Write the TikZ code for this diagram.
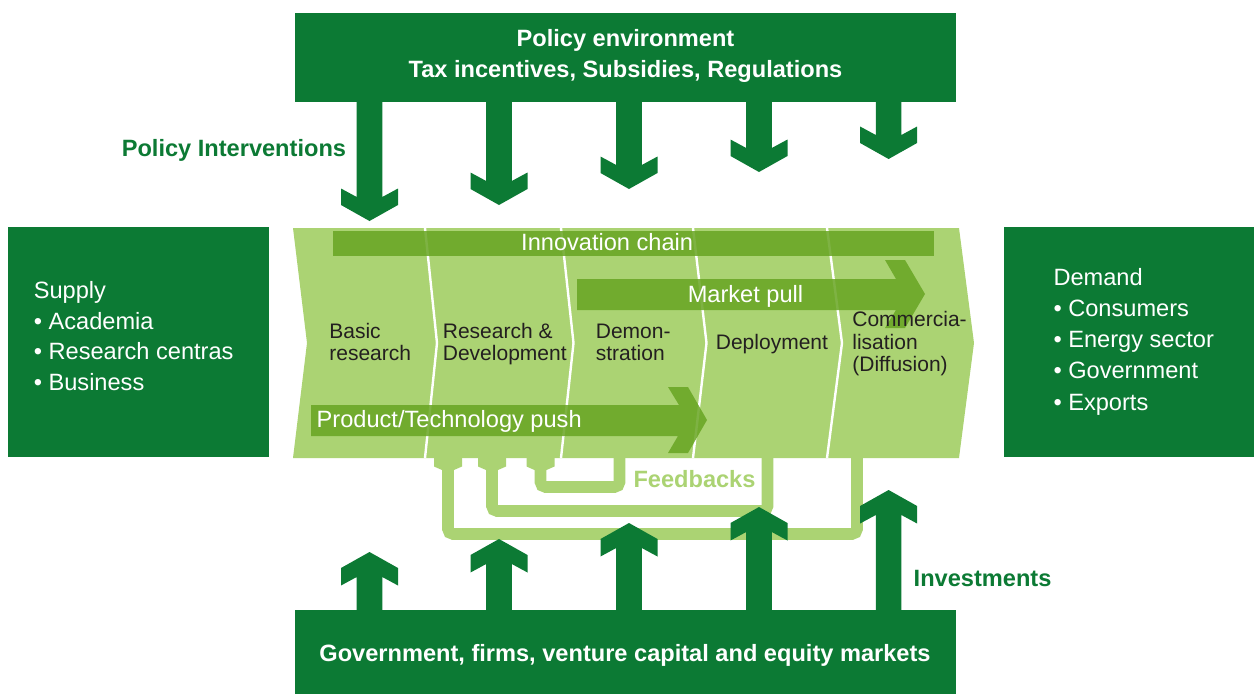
\documentclass[tikz,border=0pt]{standalone}
\usepackage{fontspec}
\setmainfont{Liberation Sans}

\begin{document}
\begin{tikzpicture}[x=1pt, y=-1pt,
	box/.style={fill=dgreen, inner sep=0pt},
	btext/.style={inner sep=0pt, font=\bfseries\fontsize{23.6}{30.6}\selectfont},
	rtext/.style={inner sep=0pt, text=white, align=left, font=\fontsize{23.6}{31}\selectfont},
	stage/.style={inner sep=0pt, text=stagegray, align=left, anchor=base west, font=\fontsize{21}{22.4}\selectfont},
	barfill/.style={fill=mgreen, fill opacity=.85},
	fbline/.style={draw=lgreen, line width=11.6pt, rounded corners=5pt}]
\definecolor{dgreen}{HTML}{0C7A34}
\definecolor{lgreen}{HTML}{ABD373}
\definecolor{mgreen}{RGB}{104,165,35}
\definecolor{stagegray}{HTML}{231F20}
	\useasboundingbox (0,0) rectangle (1254,694);

	% innovation chain band
	\fill[lgreen] (293,228) -- (959,228) -- (974,343) -- (959,458) -- (293,458) -- (307,343) -- cycle;
	\foreach \dx/\dd in {425/12, 561/12.5, 693/13.5, 827/15}
		\draw[white, line width=2.4pt] (\dx,228) -- ({\dx+\dd},343) -- (\dx,458);

	\fill[barfill] (333,231) rectangle (934,256);
	\fill[barfill] (577,279) -- (896,279) -- (885,260) -- (905,260) -- (925,294) -- (905,328) -- (885,328) -- (896,310) -- (577,310) -- cycle;
	\fill[barfill] (311,405) -- (679,405) -- (668,387) -- (688,387) -- (707,420) -- (688,453) -- (668,453) -- (678,436) -- (311,436) -- cycle;

	\node[rtext, anchor=base west] (chain) at (521,250.7) {Innovation chain};
	\node[rtext, anchor=base west] (pull) at (687.6,302.7) {Market pull};
	\node[rtext, anchor=base west] (push) at (316.5,427.3) {Product/Technology push};

	% base = last line
	\node[stage] (basic) at (329.2,360.7) {Basic\\research};
	\node[stage] (rnd) at (442.7,360.7) {Research \&\\Development};
	\node[stage] (demo) at (595.7,360.7) {Demon-\\stration};
	\node[stage] (deploy) at (715.7,349.3) {Deployment};
	\node[stage] (comm) at (852.2,371.5) {Commercia-\\lisation\\(Diffusion)};

	% feedbacks
	\draw[fbline] (448,460) -- (448,534) -- (857,534) -- (857,456);
	\draw[fbline] (492,460) -- (492,511) -- (767.5,511) -- (767.5,456);
	\draw[fbline] (540.5,460) -- (540.5,487) -- (619.5,487) -- (619.5,456);
	\foreach \cx in {448,492,540.5}
		\fill[lgreen] ({\cx-6},470) -- ({\cx-14},466.5) -- ({\cx-14},456) -- ({\cx+14},456) -- ({\cx+14},466.5) -- ({\cx+6},470) -- cycle;
	\node[btext, text=lgreen, anchor=base west] (feedb) at (633.3,487.3) {Feedbacks};

	% boxes
	\node[box, minimum width=661pt, minimum height=89pt] (policy) at (625.5,57.5) {};
	\node[box, minimum width=661pt, minimum height=84pt] (capital) at (625.5,652) {};
	\node[box, minimum width=261pt, minimum height=230pt] (supply) at (138.5,342) {};
	\node[box, minimum width=250pt, minimum height=230pt] (demand) at (1129,342) {};

	% policy and investment arrows
	\foreach \cx/\ty in {369.5/221, 499/205, 629/189, 759/172, 888.6/159}
		\fill[dgreen] ({\cx-12.8},101) -- ({\cx-12.8},{\ty-24}) -- ({\cx-28.5},{\ty-32.5}) -- ({\cx-28.5},{\ty-16}) -- (\cx,\ty)
			-- ({\cx+28.5},{\ty-16}) -- ({\cx+28.5},{\ty-32.5}) -- ({\cx+12.8},{\ty-24}) -- ({\cx+12.8},101) -- cycle;
	\foreach \cx/\ty in {369.5/552, 499/539, 629/523, 759/507, 888.6/490}
		\fill[dgreen] ({\cx-12.8},611) -- ({\cx-12.8},{\ty+25}) -- ({\cx-28.5},{\ty+33.5}) -- ({\cx-28.5},{\ty+16}) -- (\cx,\ty)
			-- ({\cx+28.5},{\ty+16}) -- ({\cx+28.5},{\ty+33.5}) -- ({\cx+12.8},{\ty+25}) -- ({\cx+12.8},611) -- cycle;

	\node[btext, text=white, anchor=base, align=center] (policytxt) at (625.5,77.3) {Policy environment\\Tax incentives, Subsidies, Regulations};
	\node[btext, text=white, anchor=base] (capitaltxt) at (625,661.7) {Government, firms, venture capital and equity markets};
	\node[rtext, anchor=base west, font=\fontsize{23.6}{30.8}\selectfont] (supplytxt) at (33.6,390.7) {Supply\\• Academia\\• Research centras\\• Business};
	\node[rtext, anchor=base west, font=\fontsize{23.6}{31.25}\selectfont] (demandtxt) at (1053.3,410) {Demand\\• Consumers\\• Energy sector\\• Government\\• Exports};
	\node[btext, text=dgreen, anchor=base west] (interv) at (121.6,156.7) {Policy Interventions};
	\node[btext, text=dgreen, anchor=base west] (invest) at (913.5,586.7) {Investments};
\end{tikzpicture}
\end{document}
